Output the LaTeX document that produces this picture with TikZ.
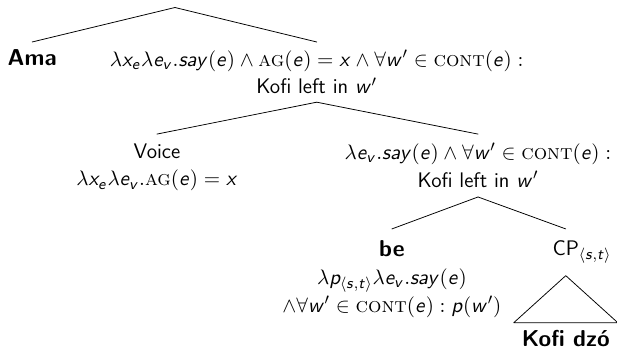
\documentclass[12pt,tikz,border=0pt]{standalone}
\usepackage{amsmath,amssymb}
\usepackage{tikz}

% sans slanted letters in math
\DeclareSymbolFont{sfletters}{OT1}{cmss}{m}{sl}
\DeclareMathSymbol{a}{\mathalpha}{sfletters}{`a}
\DeclareMathSymbol{e}{\mathalpha}{sfletters}{`e}
\DeclareMathSymbol{p}{\mathalpha}{sfletters}{`p}
\DeclareMathSymbol{s}{\mathalpha}{sfletters}{`s}
\DeclareMathSymbol{t}{\mathalpha}{sfletters}{`t}
\DeclareMathSymbol{v}{\mathalpha}{sfletters}{`v}
\DeclareMathSymbol{w}{\mathalpha}{sfletters}{`w}
\DeclareMathSymbol{x}{\mathalpha}{sfletters}{`x}
\DeclareMathSymbol{y}{\mathalpha}{sfletters}{`y}

\newcommand{\bw}[1]{{\fontsize{12}{14.5}\selectfont\bfseries #1}}

\tikzset{
  tn/.style={font=\fontsize{11}{14.5}\selectfont\sffamily, align=center, anchor=north},
}

\begin{document}
\begin{tikzpicture}[line cap=round, line join=round]
\useasboundingbox (0,0) rectangle (11.32,-6.40);
\node (root) at (3.21,0.01) {};
\node[tn] (ama) at (0.59,-0.77) {\bw{Ama}};
\node[tn] (vbar) at (5.81,-0.77) {$\lambda x_e\lambda e_v.say(e) \wedge \textrm{\textsc{ag}}(e) = x \wedge \forall w' \in \textrm{\textsc{cont}}(e):$\\ Kofi left in $w'$};
\node[tn, inner ysep=4.7pt] (voice) at (2.88,-2.46) {Voice\\ $\lambda x_e\lambda e_v.\textrm{\textsc{ag}}(e) = x$};
\node[tn, inner ysep=4.7pt] (vp) at (8.77,-2.46) {$\lambda e_v.say(e) \wedge \forall w' \in \textrm{\textsc{cont}}(e):$\\ Kofi left in $w'$};
\node[tn, inner ysep=6pt] (be) at (7.19,-4.20) {\bw{be}\\ $\lambda p_{\langle s,t\rangle}\lambda e_v.say(e)$\\ $\wedge\forall w' \in \textrm{\textsc{cont}}(e) : p(w')$};
\node[tn, inner ysep=6pt] (cp) at (10.38,-4.20) {CP\rlap{$_{\langle s,t\rangle}$}};
\node[tn] (kd) at (10.38,-5.92) {\bw{Kofi dzó}};

\draw (root.south) -- (ama.north);
\draw (root.south) -- (vbar.north);
\draw (vbar.south) -- (voice.north);
\draw (vbar.south) -- (vp.north);
\draw (vp.south) -- (be.north);
\draw (vp.south) -- (cp.north);
\draw (cp.south) -- (kd.north west) -- (kd.north east) -- cycle;
\end{tikzpicture}
\end{document}
